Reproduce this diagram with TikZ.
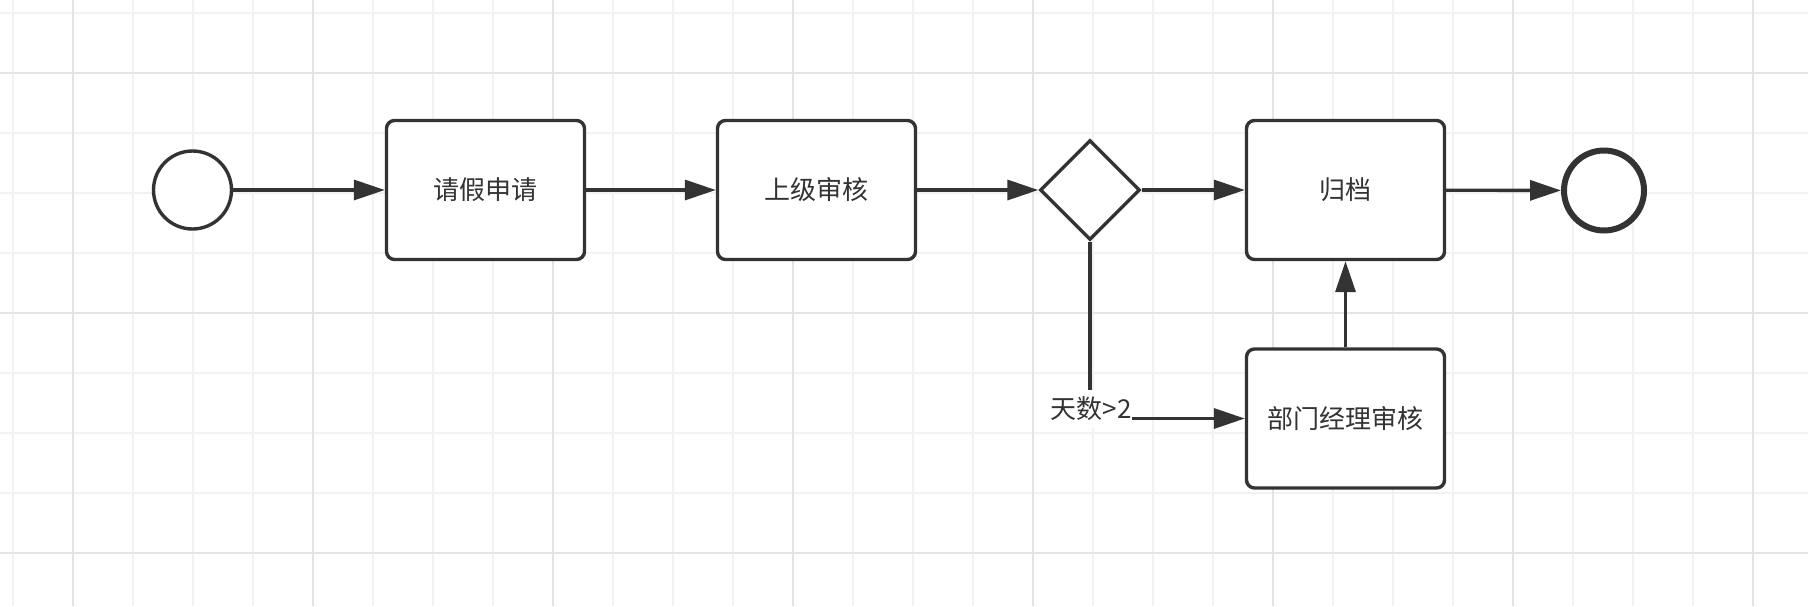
\documentclass[tikz,border=0pt]{standalone}
\usepackage{fontspec}
\setmainfont{Noto Sans CJK SC}
\usetikzlibrary{arrows.meta,shapes.geometric}
\definecolor{ink}{HTML}{333333}
\definecolor{gridminor}{HTML}{F2F2F2}
\definecolor{gridmajor}{HTML}{E4E4E4}
\begin{document}
\begin{tikzpicture}[x=0.5pt,y=-0.5pt,
  gminor/.style={draw=gridminor,line width=1pt},
  gmajor/.style={draw=gridmajor,line width=1.2pt},
  task/.style={draw=ink,fill=white,line width=1.7pt,rounded corners=4pt,
    minimum width=99pt,minimum height=69.5pt,inner sep=0pt,text=ink,
    font=\fontsize{13pt}{15pt}\selectfont},
  startev/.style={draw=ink,fill=white,circle,line width=1.7pt,minimum size=39pt,inner sep=0pt},
  endev/.style={draw=ink,fill=white,circle,line width=3pt,minimum size=40pt,inner sep=0pt},
  gateway/.style={draw=ink,fill=white,diamond,line width=1.7pt,minimum width=50pt,minimum height=50pt,inner sep=0pt},
  flow/.style={draw=ink,line width=1.7pt,-{Triangle[length=15.5pt,width=10pt]}},
  cond/.style={fill=white,text=ink,inner xsep=0.5pt,inner ysep=0pt,minimum height=19pt,
    font=\fontsize{13pt}{15pt}\selectfont}
]
\useasboundingbox (0,0) rectangle (1808,606);
\fill[white] (0,0) rectangle (1808,606);
% grid
\foreach \x in {13,73,...,1753} \draw[gminor] (\x,0) -- (\x,606);
\foreach \y in {13,73,...,553} \draw[gminor] (0,\y) -- (1808,\y);
\foreach \x in {73,313,...,1753} \draw[gmajor] (\x,0) -- (\x,606);
\foreach \y in {73,313,553} \draw[gmajor] (0,\y) -- (1808,\y);
% nodes
\node[startev] (s) at (192.5,190) {};
\node[task] (t1) at (485.5,190) {请假申请};
\node[task] (t2) at (816.5,190) {上级审核};
\node[gateway] (gw) at (1090,190) {};
\node[task] (arch) at (1345.5,190) {归档};
\node[task] (mgr) at (1345.5,418.5) {部门经理审核};
\node[endev] (e) at (1604,190.5) {};
% flows
\draw[flow] (s) -- (t1);
\draw[flow] (t1) -- (t2);
\draw[flow] (t2) -- (gw);
\draw[flow] (gw) -- (arch);
\draw[flow] (arch) -- (e);
\draw[flow] (mgr) -- (arch);
\draw[flow] (gw.south) |- (mgr.west);
\node[cond] (lbl) at (1091,409) {天数>2};
\end{tikzpicture}
\end{document}
